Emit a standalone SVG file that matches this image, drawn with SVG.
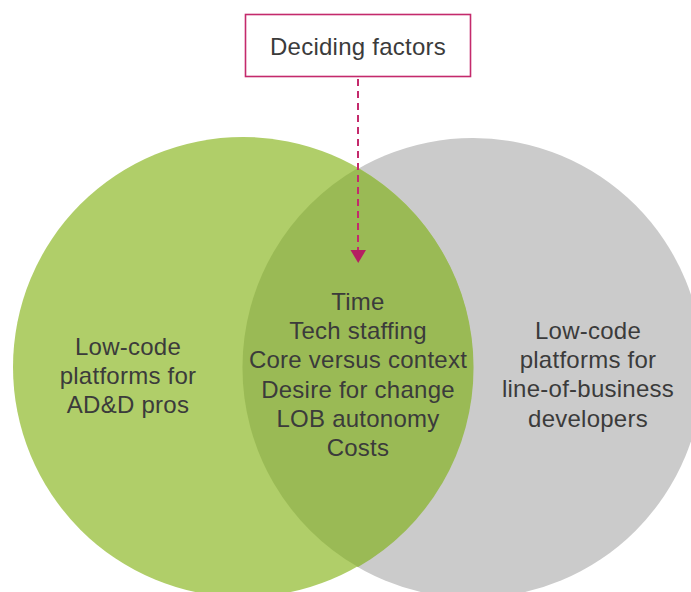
<svg xmlns="http://www.w3.org/2000/svg" width="691" height="592" viewBox="0 0 691 592">
  <defs>
    <style>
      .label { font-family: "Liberation Sans", Arial, Helvetica, sans-serif; font-size: 24px; letter-spacing: 0.25px; fill: #3b3b3b; text-anchor: middle; }
      .connector { stroke: #c42a6c; stroke-width: 2; stroke-dasharray: 7 5; fill: none; }
      .arrowhead { fill: #b51f62; }
    </style>
  </defs>
  <rect width="691" height="592" fill="#ffffff"/>

  <!-- Venn sets -->
  <g id="set-right">
    <circle cx="473" cy="368" r="230" fill="#cbcbcb"/>
    <text class="label" x="588" y="339">Low-code</text>
    <text class="label" x="588" y="368">platforms for</text>
    <text class="label" x="588" y="397">line-of-business</text>
    <text class="label" x="588" y="427">developers</text>
  </g>
  <g id="set-left">
    <circle cx="243" cy="367" r="230" fill="#b0ce69"/>
    <text class="label" x="128" y="355">Low-code</text>
    <text class="label" x="128" y="384">platforms for</text>
    <text class="label" x="128" y="413">AD&amp;D pros</text>
  </g>
  <g id="overlap">
    <path d="M358,168 A230,230 0 0 1 358,567 A230,230 0 0 1 358,168 Z" fill="#9aba55"/>
    <text class="label" x="358" y="310">Time</text>
    <text class="label" x="358" y="339">Tech staffing</text>
    <text class="label" x="358" y="368">Core versus context</text>
    <text class="label" x="358" y="398">Desire for change</text>
    <text class="label" x="358" y="427">LOB autonomy</text>
    <text class="label" x="358" y="456">Costs</text>
  </g>

  <!-- Callout box -->
  <g id="deciding-factors">
    <rect x="245.5" y="14.5" width="225" height="62" fill="#ffffff" stroke="#c42a6c" stroke-width="1.6"/>
    <text class="label" x="358" y="55">Deciding factors</text>
  </g>

  <!-- Connectors -->
  <g id="connectors">
    <line class="connector" x1="358" y1="79" x2="358" y2="250"/>
    <path class="arrowhead" d="M350.5,250 L366,250 L358.2,263 Z"/>
  </g>
</svg>
